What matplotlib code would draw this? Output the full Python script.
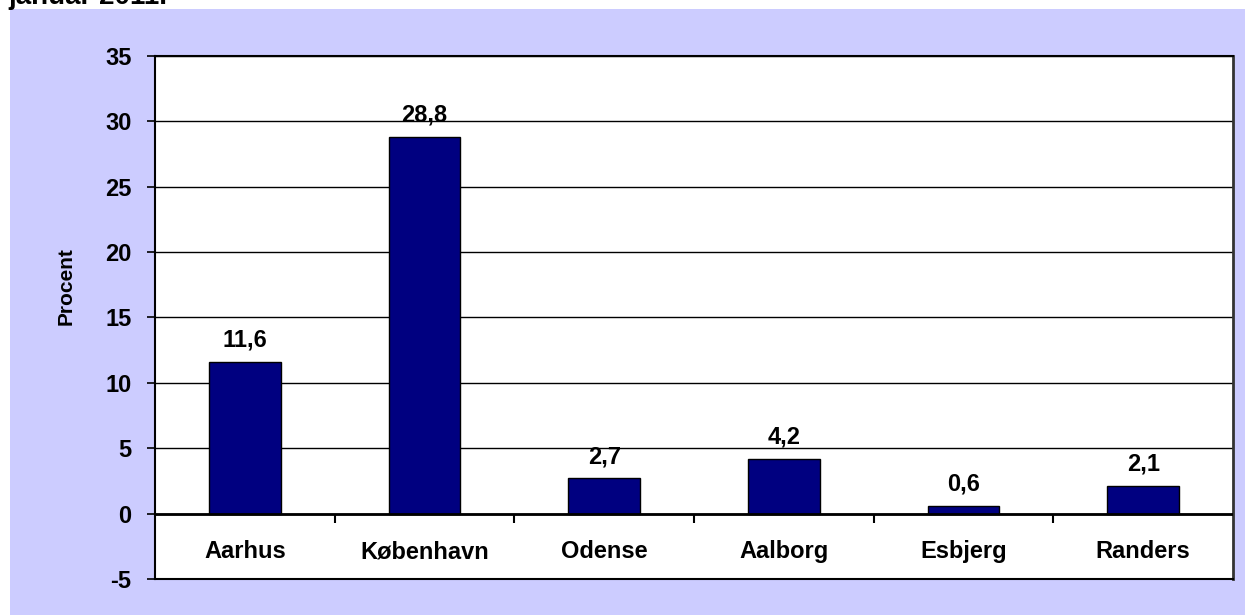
import matplotlib.pyplot as plt
from matplotlib.patches import Rectangle

# data
cities = ['Aarhus', 'København', 'Odense', 'Aalborg', 'Esbjerg', 'Randers']
values = [11.6, 28.8, 2.7, 4.2, 0.6, 2.1]
value_labels = ['11,6', '28,8', '2,7', '4,2', '0,6', '2,1']
y_ticks = [-5, 0, 5, 10, 15, 20, 25, 30, 35]

plt.rcParams['font.family'] = ['Liberation Sans', 'DejaVu Sans']
plt.rcParams['font.weight'] = 'bold'

fig = plt.figure(figsize=(12.45, 6.15), dpi=100)
fig.patch.set_facecolor('white')

# lavender chart panel, behind the axes
W, H = 1245, 615
fig.patches.append(Rectangle((10 / W, 0), 1, 1 - 9 / H, transform=fig.transFigure,
                             facecolor='#ccccff', edgecolor='none', zorder=-10))

# clipped title at the very top
fig.text(8 / W, 1 - 4 / H, 'januar 2011.', fontsize=20, fontweight='bold',
         ha='left', va='baseline')

ax = fig.add_axes([155 / W, 36 / H, 1078 / W, 523 / H])
ax.set_facecolor('white')

x = list(range(len(cities)))
bars = ax.bar(x, values, width=0.4, color='#000080', edgecolor='black',
              linewidth=1, zorder=3)

for xi, v, lab in zip(x, values, value_labels):
    ax.annotate(lab, (xi, v), xytext=(0, 11), textcoords='offset points',
                ha='center', va='baseline', fontsize=17, fontweight='bold')

ax.set_xlim(-0.5, len(cities) - 0.5)
ax.set_ylim(-5, 35)
ax.set_yticks(y_ticks)
ax.set_yticklabels([str(t) for t in y_ticks], fontsize=17, fontweight='bold')
ax.tick_params(axis='y', length=6, width=1.2, pad=11)
ax.set_xticks([])

ax.yaxis.grid(True, color='black', linewidth=1)
ax.set_axisbelow(True)

# horizontal axis at zero with category separators
ax.axhline(0, color='black', linewidth=2, zorder=4)
ax.vlines([i + 0.5 for i in x[:-1]], -0.7, 0, color='black', linewidth=1.5, zorder=4)

for xi, name in zip(x, cities):
    ax.text(xi, -3.4, name, ha='center', va='baseline', fontsize=17, fontweight='bold')

for side in ['left', 'bottom', 'top']:
    ax.spines[side].set_linewidth(1.5)
    ax.spines[side].set_color('black')
ax.spines['right'].set_linewidth(2)
ax.spines['right'].set_color('#333333')

ax.set_ylabel('Procent', fontsize=15, fontweight='bold')
ax.yaxis.set_label_coords(-0.074, 0.56)

fig.savefig('out.png', dpi=100, facecolor=fig.get_facecolor())
